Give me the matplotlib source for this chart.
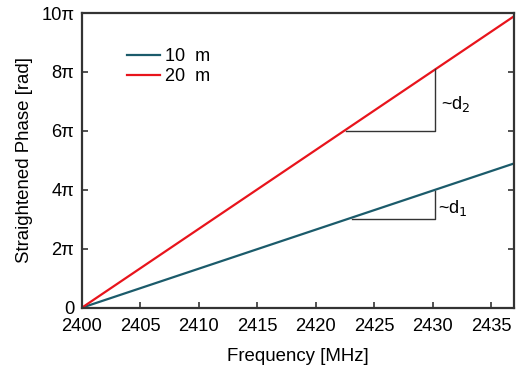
import numpy as np
import matplotlib
matplotlib.use('Agg')
import matplotlib.pyplot as plt

plt.rcParams['font.family'] = ['Liberation Sans', 'DejaVu Sans']

# data (phase in units of pi)
freq = [2400, 2437]
phase_10m = [0, 4.9]
phase_20m = [0, 9.9]

# slope triangles: (x0, x1, y_base, y_top)
tri_d2 = (2422.6, 2430.2, 6.0, 8.1)
tri_d1 = (2423.1, 2430.2, 3.0, 3.95)

yticks = [0, 2, 4, 6, 8, 10]
ytick_labels = ['0', '2\u03c0', '4\u03c0', '6\u03c0', '8\u03c0', '10\u03c0']
xticks = [2400, 2405, 2410, 2415, 2420, 2425, 2430, 2435]

teal = '#1b5b6b'
red = '#e8141c'

fig, ax = plt.subplots(figsize=(5.18, 3.73), dpi=100)
fig.subplots_adjust(left=0.158, right=0.993, top=0.965, bottom=0.175)

ax.plot(freq, phase_10m, color=teal, lw=1.6, label='10  m')
ax.plot(freq, phase_20m, color=red, lw=1.6, label='20  m')

for (x0, x1, yb, yt) in (tri_d2, tri_d1):
    ax.plot([x0, x1, x1], [yb, yb, yt], color='#333333', lw=1.0)

ax.text(2430.7, 6.9, '~d$_2$', fontsize=13, va='center', ha='left')
ax.text(2430.5, 3.4, '~d$_1$', fontsize=13, va='center', ha='left')

ax.set_xlim(2400, 2437)
ax.set_ylim(0, 10)
ax.set_xticks(xticks)
ax.set_yticks(yticks)
ax.set_yticklabels(ytick_labels)
ax.tick_params(direction='in', length=4, width=1.2, labelsize=13.2,
               right=True, top=False, colors='#333333', labelcolor='black')
ax.tick_params(axis='x', pad=7.5)
ax.tick_params(axis='y', pad=5.5)

for sp in ax.spines.values():
    sp.set_linewidth(1.6)
    sp.set_color('#333333')

ax.set_xlabel('Frequency [MHz]', fontsize=13.4, labelpad=9)
ax.set_ylabel('Straightened Phase [rad]', fontsize=13.4, labelpad=6)

leg = ax.legend(loc='upper left', bbox_to_anchor=(0.088, 0.905), frameon=False,
                fontsize=13, handlelength=1.8, handletextpad=0.3,
                labelspacing=0.15, borderaxespad=0)

fig.savefig('out.png', dpi=100)
